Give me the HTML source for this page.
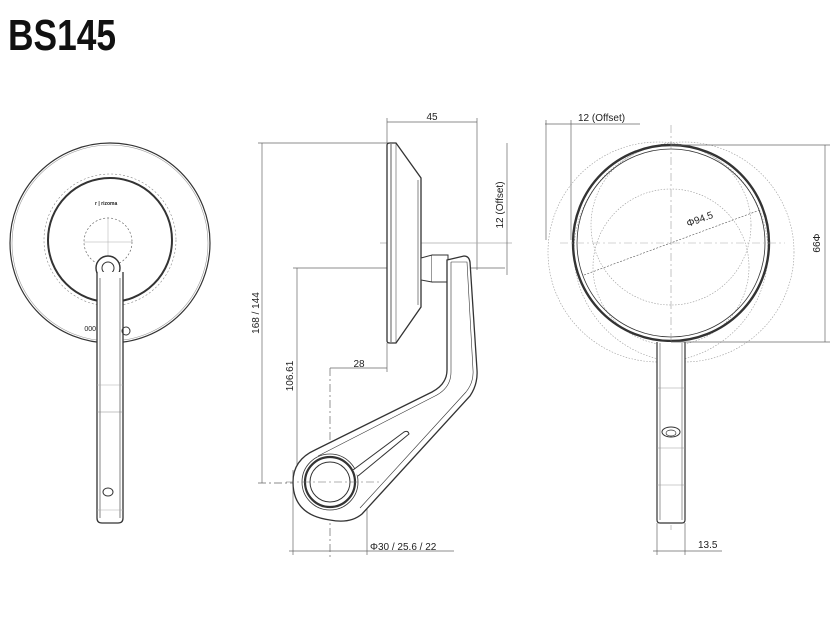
<!DOCTYPE html>
<html><head><meta charset="utf-8"><style>
html,body{margin:0;padding:0;background:#fff;width:837px;height:633px;overflow:hidden}
svg{display:block}
text{font-family:"Liberation Sans",sans-serif;fill:#222}
</style></head><body>
<svg width="837" height="633" viewBox="0 0 837 633" xmlns="http://www.w3.org/2000/svg">
<text x="8" y="50" font-size="44" font-weight="bold" textLength="108" lengthAdjust="spacingAndGlyphs" style="font-family:'Liberation Sans Narrow','Liberation Sans',sans-serif;fill:#111">BS145</text>

<!-- LEFT VIEW -->
<g fill="none" stroke="#333">
<circle cx="110" cy="243" r="100" stroke-width="1.2"/>
<circle cx="110" cy="243" r="98" stroke="#999" stroke-width="0.6"/>
<circle cx="110" cy="240" r="62" stroke-width="2"/>
<circle cx="110" cy="240" r="66" stroke="#888" stroke-width="0.6" stroke-dasharray="2 2"/>
<circle cx="108" cy="242" r="24" stroke="#666" stroke-width="0.7" stroke-dasharray="2 2"/>
<line x1="108" y1="218" x2="108" y2="268" stroke="#aaa" stroke-width="0.5"/>
<line x1="84" y1="242" x2="132" y2="242" stroke="#aaa" stroke-width="0.5"/>
<circle cx="108" cy="268" r="12" fill="#fff" stroke-width="1.4"/>
<circle cx="108" cy="268" r="6" stroke-width="1"/>
<path d="M97 272 V518 Q97 523 102 523 H118 Q123 523 123 518 V272" fill="#fff" stroke-width="1.3"/>
<line x1="100" y1="278" x2="100" y2="518" stroke-width="0.6"/>
<line x1="120" y1="278" x2="120" y2="518" stroke-width="0.6"/>
<line x1="97" y1="385" x2="123" y2="385" stroke="#aaa" stroke-width="0.5"/>
<line x1="97" y1="412" x2="123" y2="412" stroke="#888" stroke-width="0.6"/>
<ellipse cx="108" cy="492" rx="5" ry="4" stroke-width="1"/>
<line x1="97" y1="510" x2="123" y2="510" stroke="#aaa" stroke-width="0.5"/>
<circle cx="126" cy="331" r="4" stroke-width="1"/>
</g>
<text x="95" y="205" font-size="5" font-weight="bold">r | rizoma</text>
<text x="80" y="330" font-size="7" transform="rotate(180 88 328)">000</text>

<!-- MIDDLE VIEW -->
<g fill="none" stroke="#333">
<g stroke="#666" stroke-width="0.7">
<line x1="387" y1="118" x2="387" y2="143"/>
<line x1="477" y1="118" x2="477" y2="270"/>
<line x1="387" y1="122" x2="477" y2="122"/>
<line x1="258" y1="143" x2="390" y2="143"/>
<line x1="262" y1="143" x2="262" y2="483"/>
<line x1="258" y1="483" x2="345" y2="483" stroke-dasharray="8 3 2 3"/>
<line x1="293" y1="268" x2="505" y2="268"/>
<line x1="380" y1="243" x2="512" y2="243" stroke="#aaa"/>
<line x1="507" y1="143" x2="507" y2="275"/>
<line x1="297" y1="268" x2="297" y2="483"/>
<line x1="330" y1="368" x2="387" y2="368"/>
<line x1="387" y1="343" x2="387" y2="372"/>
<line x1="330" y1="368" x2="330" y2="560" stroke-dasharray="8 3 2 3"/>
<line x1="293" y1="470" x2="293" y2="555"/>
<line x1="367" y1="470" x2="367" y2="555"/>
<line x1="289" y1="551" x2="454" y2="551"/>
</g>
<path d="M387 145 Q387 143 390 143 H396 L421 178 V307 L396 343 H390 Q387 343 387 341 Z" fill="#fff" stroke-width="1.3"/>
<line x1="391" y1="144" x2="391" y2="342" stroke-width="0.8"/>
<line x1="396" y1="143" x2="396" y2="343" stroke-width="0.5"/>
<line x1="418" y1="180" x2="418" y2="305" stroke-width="0.6"/>
<path d="M421 258 L432 255 L432 282 L421 280 Z" fill="#fff" stroke-width="1"/>
<path d="M432 255 H448 V282 H432" fill="#fff" stroke-width="1"/>
<path d="M447 260 L464 256 Q469 256 470 262 L477 370 Q478 384 470 396 L362 514 Q350 524 330 520 Q293 515 293 482 Q293 460 315 450 L432 392 Q447 384 447 370 Z" fill="#fff" stroke-width="1.3"/>
<path d="M451 262 L467 262 L473 370 Q474 382 466 392 L360 508" stroke-width="0.6"/>
<path d="M451 262 L451 372 Q451 388 435 396 L318 456" stroke-width="0.6"/>
<circle cx="330" cy="482" r="28" fill="#fff" stroke-width="0.8"/>
<circle cx="330" cy="482" r="25" stroke-width="2.2"/>
<circle cx="330" cy="482" r="20" stroke-width="1"/>
<path d="M353 470 L404 432 Q408 430 409 434 L358 476" stroke-width="1" fill="#fff"/>
<line x1="286" y1="482" x2="380" y2="482" stroke="#666" stroke-width="0.6" stroke-dasharray="8 3 2 3"/>
</g>
<text x="432" y="120" font-size="10" text-anchor="middle">45</text>
<text font-size="10" transform="translate(259 313) rotate(-90)" text-anchor="middle">168 / 144</text>
<text font-size="10" transform="translate(503 205) rotate(-90)" text-anchor="middle">12 (Offset)</text>
<text font-size="10" transform="translate(293 376) rotate(-90)" text-anchor="middle">106.61</text>
<text x="359" y="367" font-size="10" text-anchor="middle">28</text>
<text x="370" y="550" font-size="10">Φ30 / 25.6 / 22</text>

<!-- RIGHT VIEW -->
<g fill="none" stroke="#333">
<g stroke="#999" stroke-width="0.6" stroke-dasharray="1.5 1.5">
<circle cx="658" cy="252" r="110"/>
<circle cx="684" cy="252" r="110"/>
<circle cx="671" cy="267" r="78"/>
<circle cx="671" cy="225" r="80"/>
</g>
<circle cx="671" cy="243" r="98" stroke-width="2.4"/>
<circle cx="671" cy="243" r="94" stroke-width="0.8"/>
<line x1="671" y1="125" x2="671" y2="530" stroke="#888" stroke-width="0.5" stroke-dasharray="8 3 2 3"/>
<line x1="560" y1="243" x2="785" y2="243" stroke="#aaa" stroke-width="0.5" stroke-dasharray="8 3 2 3"/>
<line x1="584" y1="275" x2="760" y2="210" stroke="#555" stroke-width="0.6" stroke-dasharray="2 1.5"/>
<path d="M657 342 V520 Q657 523 660 523 H682 Q685 523 685 520 V342" fill="#fff" stroke-width="1.2"/>
<line x1="660" y1="343" x2="660" y2="520" stroke-width="0.5"/>
<line x1="682" y1="343" x2="682" y2="520" stroke-width="0.5"/>
<line x1="657" y1="388" x2="685" y2="388" stroke="#999" stroke-width="0.5"/>
<line x1="657" y1="448" x2="685" y2="448" stroke="#999" stroke-width="0.5"/>
<line x1="657" y1="485" x2="685" y2="485" stroke="#999" stroke-width="0.5"/>
<ellipse cx="671" cy="432" rx="9" ry="5" stroke-width="1"/>
<ellipse cx="671" cy="433" rx="5" ry="3" stroke-width="0.7"/>
<g stroke="#666" stroke-width="0.7">
<line x1="545" y1="124" x2="640" y2="124"/>
<line x1="546" y1="120" x2="546" y2="240"/>
<line x1="571" y1="120" x2="571" y2="240"/>
<line x1="671" y1="145" x2="830" y2="145"/>
<line x1="671" y1="342" x2="830" y2="342"/>
<line x1="825" y1="145" x2="825" y2="342"/>
<line x1="657" y1="523" x2="657" y2="555"/>
<line x1="685" y1="523" x2="685" y2="555"/>
<line x1="653" y1="551" x2="722" y2="551"/>
</g>
</g>
<text x="578" y="121" font-size="10">12 (Offset)</text>
<text font-size="10" transform="translate(688 227) rotate(-20)">Φ94.5</text>
<text font-size="10" transform="translate(813 243) rotate(90)" text-anchor="middle">Φ99</text>
<text x="698" y="548" font-size="10">13.5</text>
</svg>
</body></html>
